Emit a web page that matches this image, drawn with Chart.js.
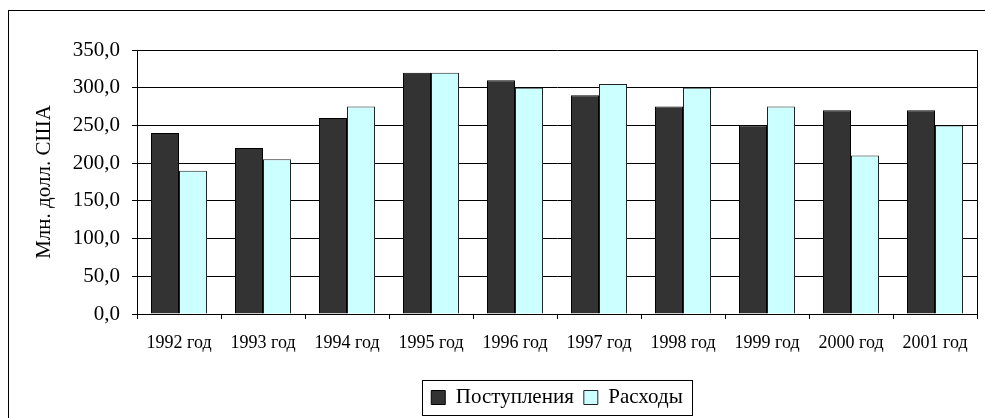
<!DOCTYPE html>
<html>
<head>
<meta charset="utf-8">
<script src="https://cdn.jsdelivr.net/npm/chart.js@4/dist/chart.umd.min.js"></script>
<style>
  html, body { margin: 0; padding: 0; background: #fff; }
  #wrap { width: 985px; height: 418px; position: relative; }
</style>
</head>
<body>
<div id="wrap"><canvas id="myChart" width="985" height="418"></canvas></div>
<script>
// data
var years = ['1992 год', '1993 год', '1994 год', '1995 год', '1996 год',
             '1997 год', '1998 год', '1999 год', '2000 год', '2001 год'];
var postupleniya = [240, 220, 260, 320, 310, 290, 275, 250, 270, 270];
var raskhody = [190, 205, 275, 320, 300, 305, 300, 275, 210, 250];
var seriesNames = ['Поступления', 'Расходы'];
var yTitle = 'Млн. долл. США';

var serif = "'Liberation Serif', 'Times New Roman', serif";

// frame around whole chart, plot area box and legend box
var frames = {
  id: 'frames',
  afterLayout: function (chart) {
    // legend sits centred under the plot area, not the whole canvas
    var lg = chart.legend, a = chart.chartArea;
    var dx = (a.left + a.right) / 2 - (lg.left + lg.right) / 2;
    lg.left += dx;
    lg.right += dx;
    (lg.legendHitBoxes || []).forEach(function (b) { b.left += dx; });
  },
  beforeDraw: function (chart) {
    var c = chart.ctx;
    c.save();
    c.fillStyle = '#fff';
    c.fillRect(0, 0, chart.width, chart.height);
    c.strokeStyle = '#000';
    c.lineWidth = 1;
    c.strokeRect(8.5, 10.5, chart.width + 20, chart.height + 20);
    c.restore();
  },
  afterDraw: function (chart) {
    var c = chart.ctx;
    var a = chart.chartArea;
    c.save();
    c.strokeStyle = '#000';
    c.lineWidth = 1;
    c.beginPath();
    c.moveTo(Math.round(a.right) + 0.5, a.top);
    c.lineTo(Math.round(a.right) + 0.5, a.bottom);
    c.stroke();
    var boxes = chart.legend.legendHitBoxes;
    if (boxes && boxes.length) {
      var l = Math.min.apply(null, boxes.map(function (b) { return b.left; }));
      var r = Math.max.apply(null, boxes.map(function (b) { return b.left + b.width; }));
      var t = Math.min.apply(null, boxes.map(function (b) { return b.top; }));
      var bt = Math.max.apply(null, boxes.map(function (b) { return b.top + b.height; }));
      c.strokeRect(Math.round(l - 9) + 0.5, Math.round(t - 7) + 0.5,
                   Math.round(r - l + 18), Math.round(bt - t + 14));
    }
    c.restore();
  }
};

var ctx = document.getElementById('myChart');
var myChart = new Chart(ctx, {
  type: 'bar',
  data: {
    labels: years,
    datasets: [{
      label: seriesNames[0],
      data: postupleniya,
      backgroundColor: '#333333',
      borderColor: '#000000',
      borderWidth: 1
    }, {
      label: seriesNames[1],
      data: raskhody,
      backgroundColor: '#ccffff',
      borderColor: '#222222',
      borderWidth: 1
    }]
  },
  plugins: [frames],
  options: {
    responsive: false,
    animation: false,
    layout: { padding: { top: 50, right: 8, left: 32, bottom: 0 } },
    datasets: {
      bar: { categoryPercentage: 0.667, barPercentage: 1 }
    },
    scales: {
      x: {
        offset: true,
        grid: {
          offset: true,
          drawOnChartArea: false,
          tickLength: 5,
          color: '#000'
        },
        border: { color: '#000', width: 1 },
        ticks: {
          color: '#000',
          padding: 13,
          maxRotation: 0,
          font: { family: serif, size: 18 }
        },
        afterFit: function (scale) { scale.height = 63; }
      },
      y: {
        min: 0,
        max: 350,
        grid: { color: '#000', tickLength: 5 },
        border: { color: '#000', width: 1 },
        ticks: {
          stepSize: 50,
          color: '#000',
          padding: 12,
          font: { family: serif, size: 21 },
          callback: function (v) { return v.toFixed(1).replace('.', ','); }
        },
        title: {
          display: true,
          text: yTitle,
          color: '#000',
          font: { family: serif, size: 21 },
          padding: { top: 0, bottom: 4 }
        },
        afterFit: function (scale) { scale.width = 105; }
      }
    },
    plugins: {
      legend: {
        position: 'bottom',
        labels: {
          color: '#000',
          boxWidth: 14,
          boxHeight: 14,
          padding: 10,
          font: { family: serif, size: 21 }
        }
      },
      tooltip: { enabled: false }
    }
  }
});
</script>
</body>
</html>
